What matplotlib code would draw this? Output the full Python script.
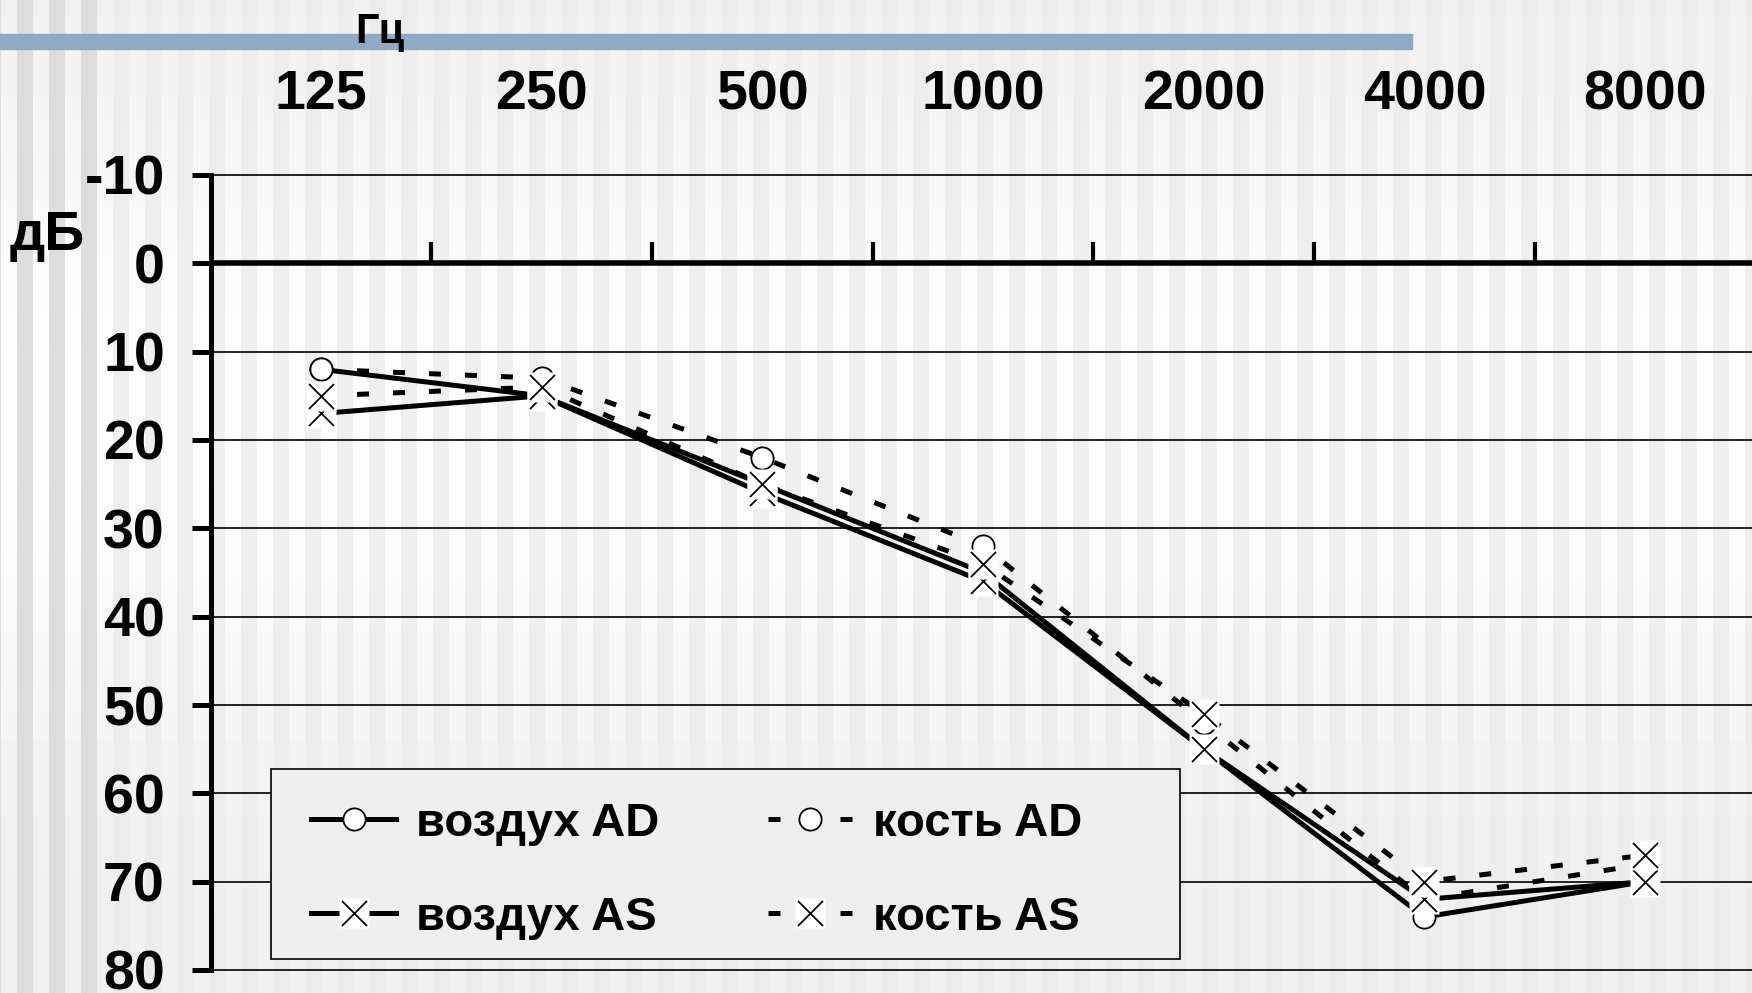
import numpy as np
import matplotlib
matplotlib.use('Agg')
import matplotlib.pyplot as plt
from matplotlib.lines import Line2D
from matplotlib.patches import Rectangle
from matplotlib.transforms import blended_transform_factory

plt.rcParams['font.family'] = ['Liberation Sans', 'DejaVu Sans']
plt.rcParams['axes.unicode_minus'] = False

# data (dB HL)
freqs = ['125', '250', '500', '1000', '2000', '4000', '8000']
air_ad = [12, 15, 25, 35, 55, 74, 70]
air_as = [17, 15, 26, 36, 55, 72, 70]
bone_ad = [12, 13, 22, 32, 52, 72, 68]
bone_as = [15, 14, 25, 34, 51, 70, 67]
db_ticks = [-10, 0, 10, 20, 30, 40, 50, 60, 70, 80]
db_labels = [str(v) for v in db_ticks]
legend_labels = ['воздух AD', 'воздух AS', 'кость AD', 'кость AS']

W, H = 1752, 993
fig = plt.figure(figsize=(W / 100, H / 100), dpi=100)

# striped slide background
bg = fig.add_axes([0, 0, 1, 1], zorder=-10)
yy = np.linspace(0, 1, H)[:, None]
xx = np.arange(W)[None, :]
glow = np.exp(-((yy - 0.42) / 0.3) ** 2)
light = 0.94 + 0.055 * glow
dark = 0.925 + 0.012 * glow
stripe = ((xx - 17) % 32) < 16
img = np.where(stripe, dark, light)
img = np.where(stripe & (xx < 97), 0.865, img)
bg.imshow(img, cmap='gray', vmin=0, vmax=1, aspect='auto', interpolation='nearest')
bg.axis('off')

# blue bar at top
fig.add_artist(Rectangle((0, 1 - 49 / H), 1412 / W, 15 / H, transform=fig.transFigure,
                         color='#8eaac4', zorder=0))
fig.text(380 / W, 1 - 43 / H, 'Гц', ha='center', va='baseline', fontsize=30, fontweight='bold')
fig.text(47 / W, 1 - 250 / H, 'дБ', ha='center', va='baseline', fontsize=40, fontweight='bold')

ax = fig.add_axes([210.7 / W, 1 - 970 / H, 1544.7 / W, 795 / H])
ax.set_facecolor('none')
x = np.arange(len(freqs))
ax.set_xlim(-0.5, len(freqs) - 0.5)
ax.set_ylim(80, -10)

for v in db_ticks:
    ax.axhline(v, color='#111111', lw=1.3, zorder=1, clip_on=False)
ax.axhline(0, color='k', lw=4, zorder=2)
ax.vlines(x[:-1] + 0.5, 0, -2.4, color='k', lw=3, zorder=2)

for s in ['top', 'right', 'bottom']:
    ax.spines[s].set_visible(False)
ax.spines['left'].set_linewidth(3.6)
ax.set_xticks([])
ax.set_yticks(db_ticks)
ax.set_yticklabels(db_labels, fontsize=40, fontweight='bold')
ax.tick_params(axis='y', direction='out', length=14, width=3.6, pad=19)

# frequency labels above the chart
tr = blended_transform_factory(ax.transData, fig.transFigure)
for i, f in enumerate(freqs):
    ax.text(i, 1 - 110 / H, f, transform=tr, ha='center', va='baseline',
            fontsize=40, fontweight='bold')

dotted = (0, (2.4, 4.8))
for vals, ls in [(air_ad, '-'), (air_as, '-'), (bone_ad, dotted), (bone_as, dotted)]:
    ax.plot(x, vals, color='k', lw=3.6, ls=ls, zorder=3,
            solid_capstyle='butt', dash_capstyle='butt')
for vals in [air_ad, bone_ad]:
    ax.plot(x, vals, ls='none', marker='o', ms=16, mfc='white', mec='k', mew=1.3, zorder=4)
for i, vals in enumerate([air_as, bone_as]):
    ax.plot(x, vals, ls='none', marker='s', ms=21, mfc='white', mec='none', zorder=5 + i)
    ax.plot(x, vals, ls='none', marker='x', ms=18, mew=1.3, color='k', zorder=5 + i)

# legend
ax.add_patch(Rectangle((271 / W, 1 - 959 / H), 909 / W, 190 / H, transform=fig.transFigure,
                       fc='#efefef', ec='k', lw=1.2, zorder=6, clip_on=False))


def circle_handle(ls):
    return Line2D([], [], color='k', lw=3.6, ls=ls, marker='o', ms=16,
                  mfc='white', mec='k', mew=1.3)


def cross_handle(ls):
    return (Line2D([], [], color='k', lw=3.6, ls=ls, marker='s', ms=21, mfc='white', mec='none'),
            Line2D([], [], ls='none', marker='x', ms=18, mew=1.3, color='k'))


handles = [circle_handle('-'), cross_handle('-'), circle_handle(dotted), cross_handle(dotted)]
leg = ax.legend(handles, legend_labels, ncol=2, loc='center left',
                bbox_to_anchor=(311 / W, 1 - 871 / H), bbox_transform=fig.transFigure,
                frameon=False, prop={'weight': 'bold', 'size': 34},
                handlelength=1.8, handletextpad=0.42, columnspacing=2.3,
                labelspacing=1.06, borderpad=0, borderaxespad=0)
leg.set_zorder(7)

fig.savefig('out.png', dpi=100)
